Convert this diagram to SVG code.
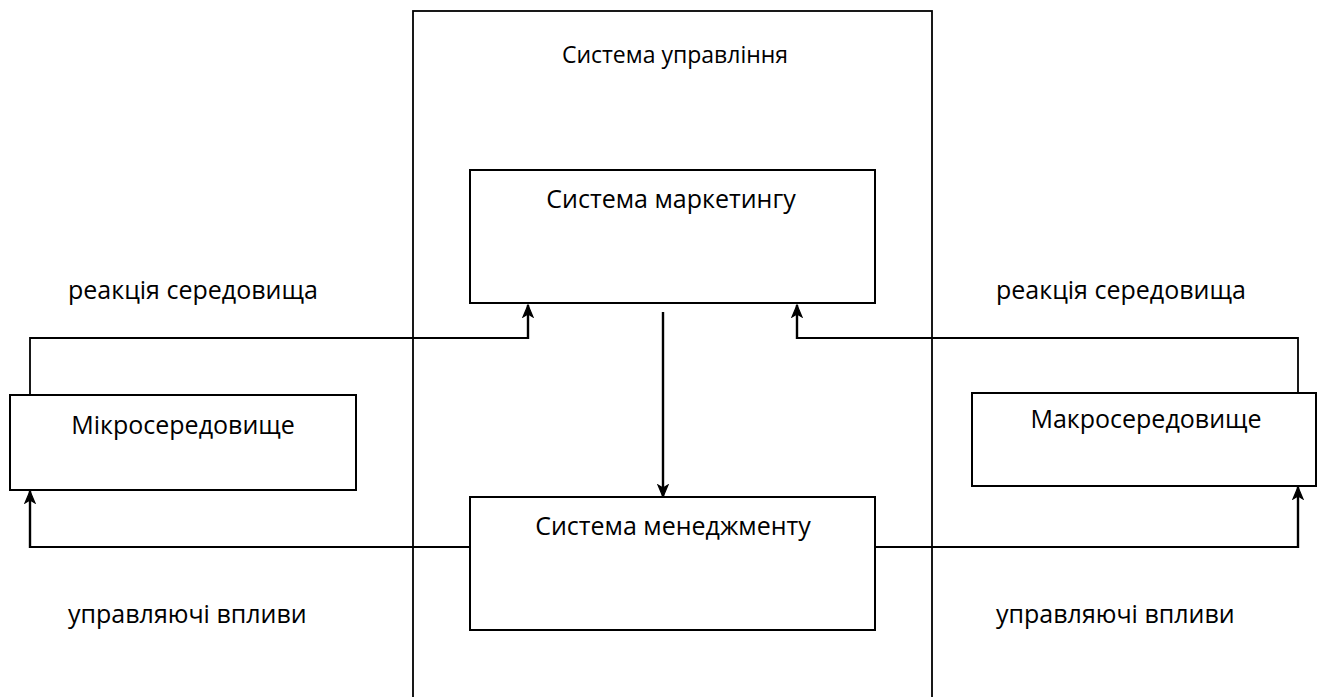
<svg xmlns="http://www.w3.org/2000/svg" width="1320" height="697" viewBox="0 0 1320 697">
<style>
.box{fill:#fff;stroke:#000;stroke-width:2}
.frame{fill:none;stroke:#000;stroke-width:1.8}
.ln{fill:none;stroke:#000;stroke-width:1.8}
.arr{fill:none;stroke:#000;stroke-width:2.4}
text{font-family:"Open Sans","Liberation Sans",sans-serif;font-size:25px;fill:#000}
.c{text-anchor:middle}
.s{font-size:23px}
</style>
<defs>
<marker id="ah" viewBox="0 0 14 14" refX="13" refY="7" markerWidth="14" markerHeight="14" markerUnits="userSpaceOnUse" orient="auto">
<path d="M1,2 L13,7 L1,12 L4,7 Z" fill="#000" stroke="#000" stroke-width="1.2" stroke-linejoin="miter"/>
</marker>
</defs>
<g id="system-management">
<rect class="frame" x="413" y="11" width="519" height="700"/>
<text class="c s" x="675" y="63">Система управління</text>
</g>
<g id="connectors">
<path class="ln" d="M30,395 V338 H528"/>
<path class="arr" d="M528,339 V305" marker-end="url(#ah)"/>
<path class="ln" d="M1298,397 V338 H797"/>
<path class="arr" d="M797,339 V305" marker-end="url(#ah)"/>
<path class="ln" d="M470,547 H30"/>
<path class="arr" d="M30,548 V491" marker-end="url(#ah)"/>
<path class="ln" d="M875,547 H1298"/>
<path class="arr" d="M1298,548 V487" marker-end="url(#ah)"/>
<path class="arr" d="M663,312 V497" marker-end="url(#ah)"/>
</g>
<g id="marketing">
<rect class="box" x="470" y="170" width="405" height="133"/>
<text class="c" x="671" y="208">Система маркетингу</text>
</g>
<g id="management">
<rect class="box" x="470" y="497" width="405" height="133"/>
<text class="c" x="673" y="535">Система менеджменту</text>
</g>
<g id="micro">
<rect class="box" x="10" y="395" width="346" height="95"/>
<text class="c" x="183" y="434">Мікросередовище</text>
</g>
<g id="macro">
<rect class="box" x="972" y="393" width="344" height="93"/>
<text class="c" x="1146" y="428">Макросередовище</text>
</g>
<g id="labels">
<text x="68" y="299">реакція середовища</text>
<text x="996" y="299">реакція середовища</text>
<text x="68" y="623">управляючі впливи</text>
<text x="996" y="623">управляючі впливи</text>
</g>
</svg>
